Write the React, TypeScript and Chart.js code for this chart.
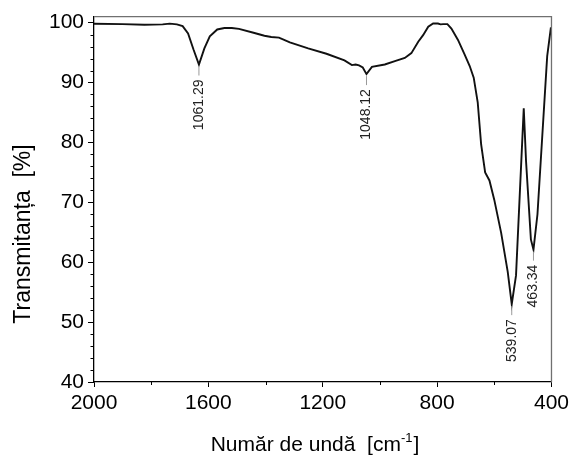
import React, { useEffect, useRef } from "react";
import { Chart, registerables } from "chart.js";

Chart.register(...registerables);

// Wavenumber (cm-1) and transmittance (%)
const wavenumbers = [
  2000, 1900, 1824, 1760, 1735, 1710, 1690, 1671, 1652, 1633, 1614, 1595, 1569, 1544, 1518, 1493, 1442, 1404, 1380,
  1353, 1315, 1251, 1187, 1124, 1098, 1085, 1073, 1060, 1047, 1028, 983, 945, 913, 890, 866, 849, 831, 814, 797, 788,
  779, 764, 750, 727, 704, 686, 672, 658, 646, 632, 617, 600, 576, 553, 539, 524, 497, 489, 472, 463, 449, 415, 402,
];
const transmittance = [
  99.8, 99.75, 99.65, 99.7, 99.82, 99.7, 99.4, 98.2, 95.5, 93.0, 95.7, 97.7, 98.85, 99.1, 99.1, 98.95, 98.3, 97.8, 97.6,
  97.5, 96.7, 95.7, 94.8, 93.7, 92.9, 93.0, 92.85, 92.5, 91.4, 92.6, 93.0, 93.6, 94.1, 94.9, 96.8, 97.9, 99.3, 99.84,
  99.84, 99.7, 99.75, 99.75, 99.0, 97.1, 94.7, 92.75, 90.8, 86.7, 79.65, 75.0, 73.65, 70.4, 64.9, 58.4, 53.0, 57.8,
  85.7, 76.9, 63.8, 62.1, 68.0, 94.4, 99.2,
];

// Annotated minima
const peakWavenumbers = [1633, 1047, 539, 463];
const peakValues = [93.0, 91.4, 53.0, 62.1];
const peakLabels = ["1061.29", "1048.12", "539.07", "463.34"];

// Axes
const xMin = 400;
const xMax = 2000;
const xStep = 400;
const xMinorTicks = [1800, 1400, 1000, 600];
const yMin = 40;
const yMax = 101;
const yStep = 10;
const yMinorTicks = [42, 44, 46, 48, 52, 54, 56, 58, 62, 64, 66, 68, 72, 74, 76, 78, 82, 84, 86, 88, 92, 94, 96, 98];

const xTitleMain = "Număr de undă  [cm";
const xTitleSup = "-1";
const xTitleEnd = "]";
const yTitle = "Transmitanța  [%]";

const FONT = "'Liberation Sans', Arial, sans-serif";

export default function App() {
  const ref = useRef<HTMLCanvasElement>(null);

  useEffect(() => {
    document.body.style.margin = "0";
    if (!ref.current) return;

    const decor = {
      id: "decor",
      afterDraw(chart: any) {
        const { ctx, chartArea: a, scales } = chart;
        const x = scales.x;
        const y = scales.y;
        ctx.save();
        // top/right frame
        ctx.strokeStyle = "#707070";
        ctx.lineWidth = 1.3;
        ctx.beginPath();
        ctx.moveTo(a.left, a.top);
        ctx.lineTo(a.right, a.top);
        ctx.lineTo(a.right, a.bottom);
        ctx.stroke();

        // minor ticks
        ctx.strokeStyle = "#000";
        ctx.lineWidth = 1;
        ctx.beginPath();
        for (const v of xMinorTicks) {
          const px = Math.round(x.getPixelForValue(v)) + 0.5;
          ctx.moveTo(px, a.bottom);
          ctx.lineTo(px, a.bottom + 3);
        }
        for (const v of yMinorTicks) {
          const py = Math.round(y.getPixelForValue(v)) + 0.5;
          ctx.moveTo(a.left - 3.5, py);
          ctx.lineTo(a.left, py);
        }
        ctx.stroke();

        // peak annotations
        ctx.font = `14px ${FONT}`;
        ctx.fillStyle = "#222";
        for (let i = 0; i < peakLabels.length; i++) {
          const px = x.getPixelForValue(peakWavenumbers[i]);
          const py = y.getPixelForValue(peakValues[i]);
          ctx.strokeStyle = "#999";
          ctx.lineWidth = 1;
          ctx.beginPath();
          ctx.moveTo(px, py + 2);
          ctx.lineTo(px, py + 11);
          ctx.stroke();
          ctx.save();
          ctx.translate(px, py + 15);
          ctx.rotate(-Math.PI / 2);
          ctx.textAlign = "right";
          ctx.textBaseline = "middle";
          ctx.fillText(peakLabels[i], 0, 0);
          ctx.restore();
        }

        // y title
        ctx.fillStyle = "#000";
        ctx.font = `23px ${FONT}`;
        ctx.save();
        ctx.translate(24, 234);
        ctx.rotate(-Math.PI / 2);
        ctx.textAlign = "center";
        ctx.textBaseline = "middle";
        ctx.fillText(yTitle, 0, 0);
        ctx.restore();

        // x title with superscript
        const size = 21;
        const supSize = 13;
        ctx.textBaseline = "alphabetic";
        ctx.textAlign = "left";
        ctx.font = `${size}px ${FONT}`;
        const w1 = ctx.measureText(xTitleMain).width;
        const w3 = ctx.measureText(xTitleEnd).width;
        ctx.font = `${supSize}px ${FONT}`;
        const w2 = ctx.measureText(xTitleSup).width;
        const total = w1 + w2 + w3 + 1;
        const sx = 315 - total / 2;
        const base = 451;
        ctx.font = `${size}px ${FONT}`;
        ctx.fillText(xTitleMain, sx, base);
        ctx.font = `${supSize}px ${FONT}`;
        ctx.fillText(xTitleSup, sx + w1, base - 9);
        ctx.font = `${size}px ${FONT}`;
        ctx.fillText(xTitleEnd, sx + w1 + w2 + 1, base);
        ctx.restore();
      },
    };

    const chart = new Chart(ref.current, {
      type: "line",
      data: {
        datasets: [
          {
            data: wavenumbers.map((w, i) => ({ x: w, y: transmittance[i] })),
            borderColor: "#111",
            borderWidth: 1.9,
            pointRadius: 0,
            tension: 0,
            fill: false,
          },
        ],
      },
      options: {
        animation: false,
        responsive: false,
        layout: { padding: { top: 10, right: 19, left: 0, bottom: 0 } },
        plugins: { legend: { display: false }, tooltip: { enabled: false } },
        scales: {
          x: {
            type: "linear",
            reverse: true,
            min: xMin,
            max: xMax,
            afterFit: (s: any) => {
              s.height = 77;
            },
            ticks: {
              stepSize: xStep,
              color: "#000",
              font: { family: FONT, size: 21 },
              padding: 4,
              maxRotation: 0,
              includeBounds: false,
              callback: (v: any) => String(v),
            },
            grid: { drawOnChartArea: false, drawTicks: true, tickLength: 5, color: "#000", lineWidth: 1 },
            border: { display: true, color: "#000", width: 1.3 },
          },
          y: {
            type: "linear",
            min: yMin,
            max: yMax,
            afterFit: (s: any) => {
              s.width = 94;
            },
            ticks: {
              stepSize: yStep,
              color: "#000",
              font: { family: FONT, size: 21 },
              padding: 4,
              includeBounds: false,
              callback: (v: any) => String(v),
            },
            grid: { drawOnChartArea: false, drawTicks: true, tickLength: 6, color: "#000", lineWidth: 1 },
            border: { display: true, color: "#000", width: 1.3 },
          },
        },
      },
      plugins: [decor],
    });

    return () => chart.destroy();
  }, []);

  return <canvas ref={ref} width={573} height={459} style={{ display: "block" }} />;
}
